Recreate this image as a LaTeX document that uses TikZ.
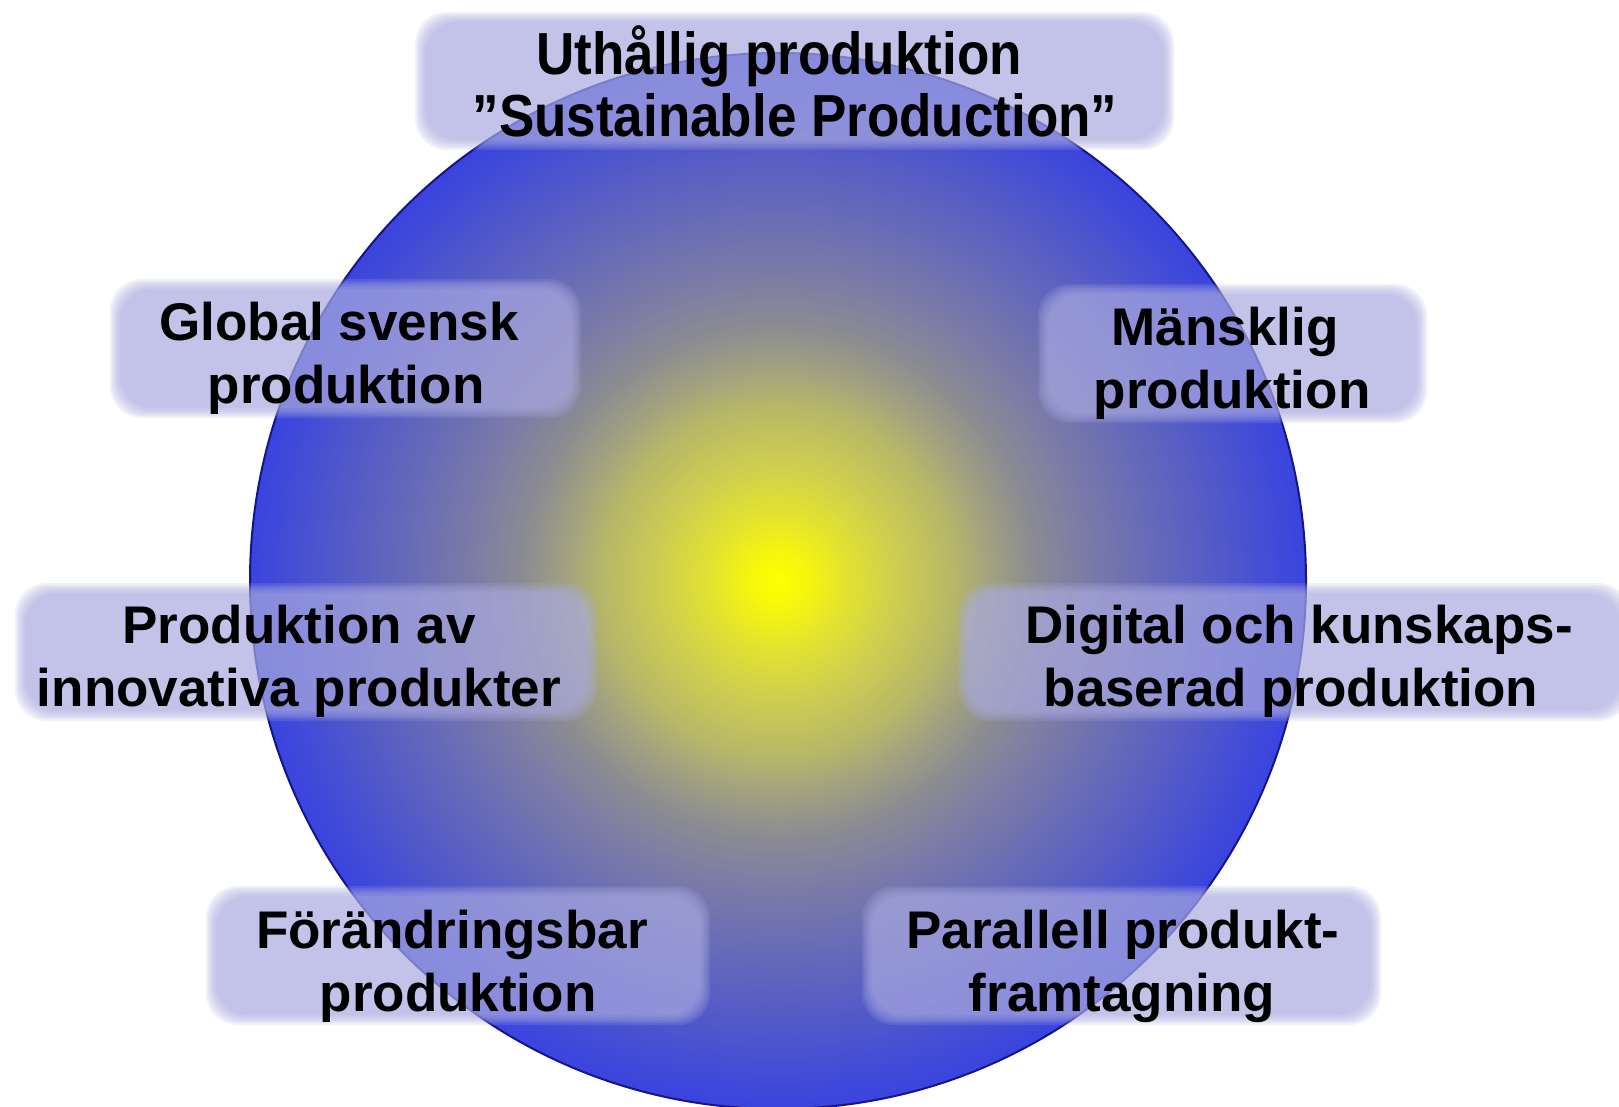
\documentclass[tikz,border=0pt]{standalone}
\usepackage{fontspec}
\setmainfont{Liberation Sans}
\definecolor{s0}{RGB}{255,255,0}
\definecolor{s1}{RGB}{245,245,15}
\definecolor{s2}{RGB}{225,225,50}
\definecolor{s3}{RGB}{205,205,82}
\definecolor{s3b}{RGB}{182,182,105}
\definecolor{s4}{RGB}{165,165,125}
\definecolor{s5}{RGB}{140,140,145}
\definecolor{s6}{RGB}{125,125,165}
\definecolor{s7}{RGB}{95,100,190}
\definecolor{s8}{RGB}{65,75,215}
\definecolor{s9}{RGB}{58,68,222}
\definecolor{rimblue}{RGB}{20,20,140}
\definecolor{boxfill}{RGB}{172,172,226}
\pgfdeclareradialshading{sun}{\pgfpoint{0bp}{0bp}}{%
  color(0bp)=(s0); color(1.42bp)=(s1); color(3.36bp)=(s2); color(5.68bp)=(s3);
  color(8.38bp)=(s3b); color(9.75bp)=(s4); color(11.98bp)=(s5); color(14.25bp)=(s6);
  color(18.9bp)=(s7); color(23.6bp)=(s8); color(25bp)=(s9); color(50bp)=(s9)}
\newcommand{\softbox}[4]{%
  \foreach \k in {0,...,5}{%
    \fill[boxfill, fill opacity=0.18, rounded corners=32pt]
      ({#1+2*\k},{#2+2*\k}) rectangle ({#3-2*\k},{#4-2*\k});}}
\tikzset{lbl/.style={font=\fontsize{53}{63}\selectfont\bfseries, inner sep=0pt, anchor=base, text=black},
  tall/.style={yscale=1.12}}
\begin{document}
\begin{tikzpicture}[x=1pt,y=-1pt]
\useasboundingbox (0,0) rectangle (1619,1107);
\fill[white] (0,0) rectangle (1619,1107);
\shadedraw[shading=sun, draw=rimblue, line width=2pt] (778,581) circle[radius=528];
\softbox{415}{12}{1174}{150}
\softbox{110}{279}{581}{418}
\softbox{1038}{284}{1427}{423}
\softbox{15}{583}{597}{721}
\softbox{958}{583}{1630}{721}
\softbox{206}{886}{710}{1025}
\softbox{862}{886}{1381}{1025}
\node[lbl, tall] (b1a) at (779,75) {Uthållig produktion};
\node[lbl, tall] (b1b) at (795,137) {”Sustainable Production”};
\node[lbl] (b2a) at (339,340) {Global svensk};
\node[lbl] (b2b) at (346,403) {produktion};
\node[lbl] (b3a) at (1225,345) {Mänsklig};
\node[lbl] (b3b) at (1232,408) {produktion};
\node[lbl] (b4a) at (299,643) {Produktion av};
\node[lbl] (b4b) at (299,706) {innovativa produkter};
\node[lbl] (b5a) at (1299,643) {Digital och kunskaps-};
\node[lbl] (b5b) at (1291,706) {baserad produktion};
\node[lbl] (b6a) at (452,948) {Förändringsbar};
\node[lbl] (b6b) at (458,1011) {produktion};
\node[lbl] (b7a) at (1123,948) {Parallell produkt-};
\node[lbl] (b7b) at (1122,1011) {framtagning};
\end{tikzpicture}
\end{document}
